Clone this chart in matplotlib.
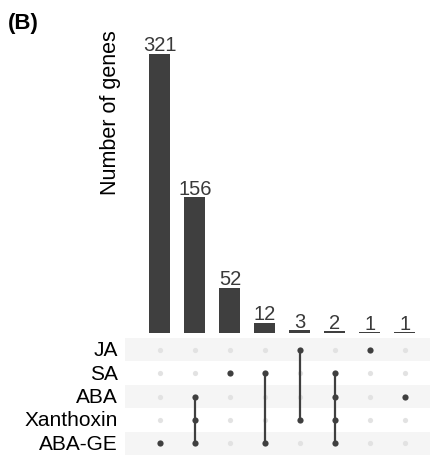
import matplotlib.pyplot as plt
import numpy as np

plt.rcParams['font.family'] = ['Liberation Sans', 'DejaVu Sans']

# data
set_names = ['JA', 'SA', 'ABA', 'Xanthoxin', 'ABA-GE']
counts = [321, 156, 52, 12, 3, 2, 1, 1]
members = [
    ['ABA-GE'],
    ['ABA', 'Xanthoxin', 'ABA-GE'],
    ['SA'],
    ['SA', 'ABA-GE'],
    ['JA', 'Xanthoxin'],
    ['SA', 'ABA', 'Xanthoxin', 'ABA-GE'],
    ['JA'],
    ['ABA'],
]

W, H = 431, 456
fig = plt.figure(figsize=(W / 100, H / 100), dpi=100)

dark = '#3f3f3f'
x = np.arange(len(counts))
xlim = (-1, (W - 160) / 35)

# bar panel
ax = fig.add_axes([125 / W, (H - 334) / H, 1 - 125 / W, (334 - 20) / H])
ax.bar(x, counts, width=0.6, color=dark)
for xi, c in zip(x, counts):
    ax.annotate(str(c), (xi, c), xytext=(0, 2.5), textcoords='offset points',
                ha='center', va='baseline', fontsize=14.5, color='#3a3a3a')
ax.set_xlim(xlim)
ax.set_ylim(0, 361)
ax.axis('off')

fig.text(111 / W, 1 - 113 / H, 'Number of genes', rotation=90,
         ha='center', va='center', fontsize=15.5)
fig.text(8 / W, 1 - 23 / H, '(B)', ha='left', va='center',
         fontsize=16, fontweight='bold')

# matrix panel
mx = fig.add_axes([125 / W, 0, 1 - 125 / W, 117 / H])
n = len(set_names)
ypos = {s: n - 1 - i for i, s in enumerate(set_names)}
for i in range(0, n, 2):
    mx.axhspan(n - 1 - i - 0.5, n - 1 - i + 0.5, color='#f5f5f5', lw=0, zorder=0)

gx, gy = np.meshgrid(x, np.arange(n))
mx.scatter(gx.ravel(), gy.ravel(), s=14, color='#e2e2e2', lw=0, zorder=1)
for xi, m in zip(x, members):
    ys = [ypos[s] for s in m]
    if len(ys) > 1:
        mx.plot([xi, xi], [min(ys), max(ys)], color=dark, lw=1.6, zorder=2)
    mx.scatter([xi] * len(ys), ys, s=20, color=dark, lw=0, zorder=3)

mx.set_xlim(xlim)
mx.set_ylim(-0.5, n - 0.5)
for s in set_names:
    fig.text(118 / W, (mx.transData.transform((0, ypos[s]))[1]) / H,
             s, ha='right', va='center', fontsize=15)
mx.axis('off')

fig.savefig('out.png', dpi=100)
